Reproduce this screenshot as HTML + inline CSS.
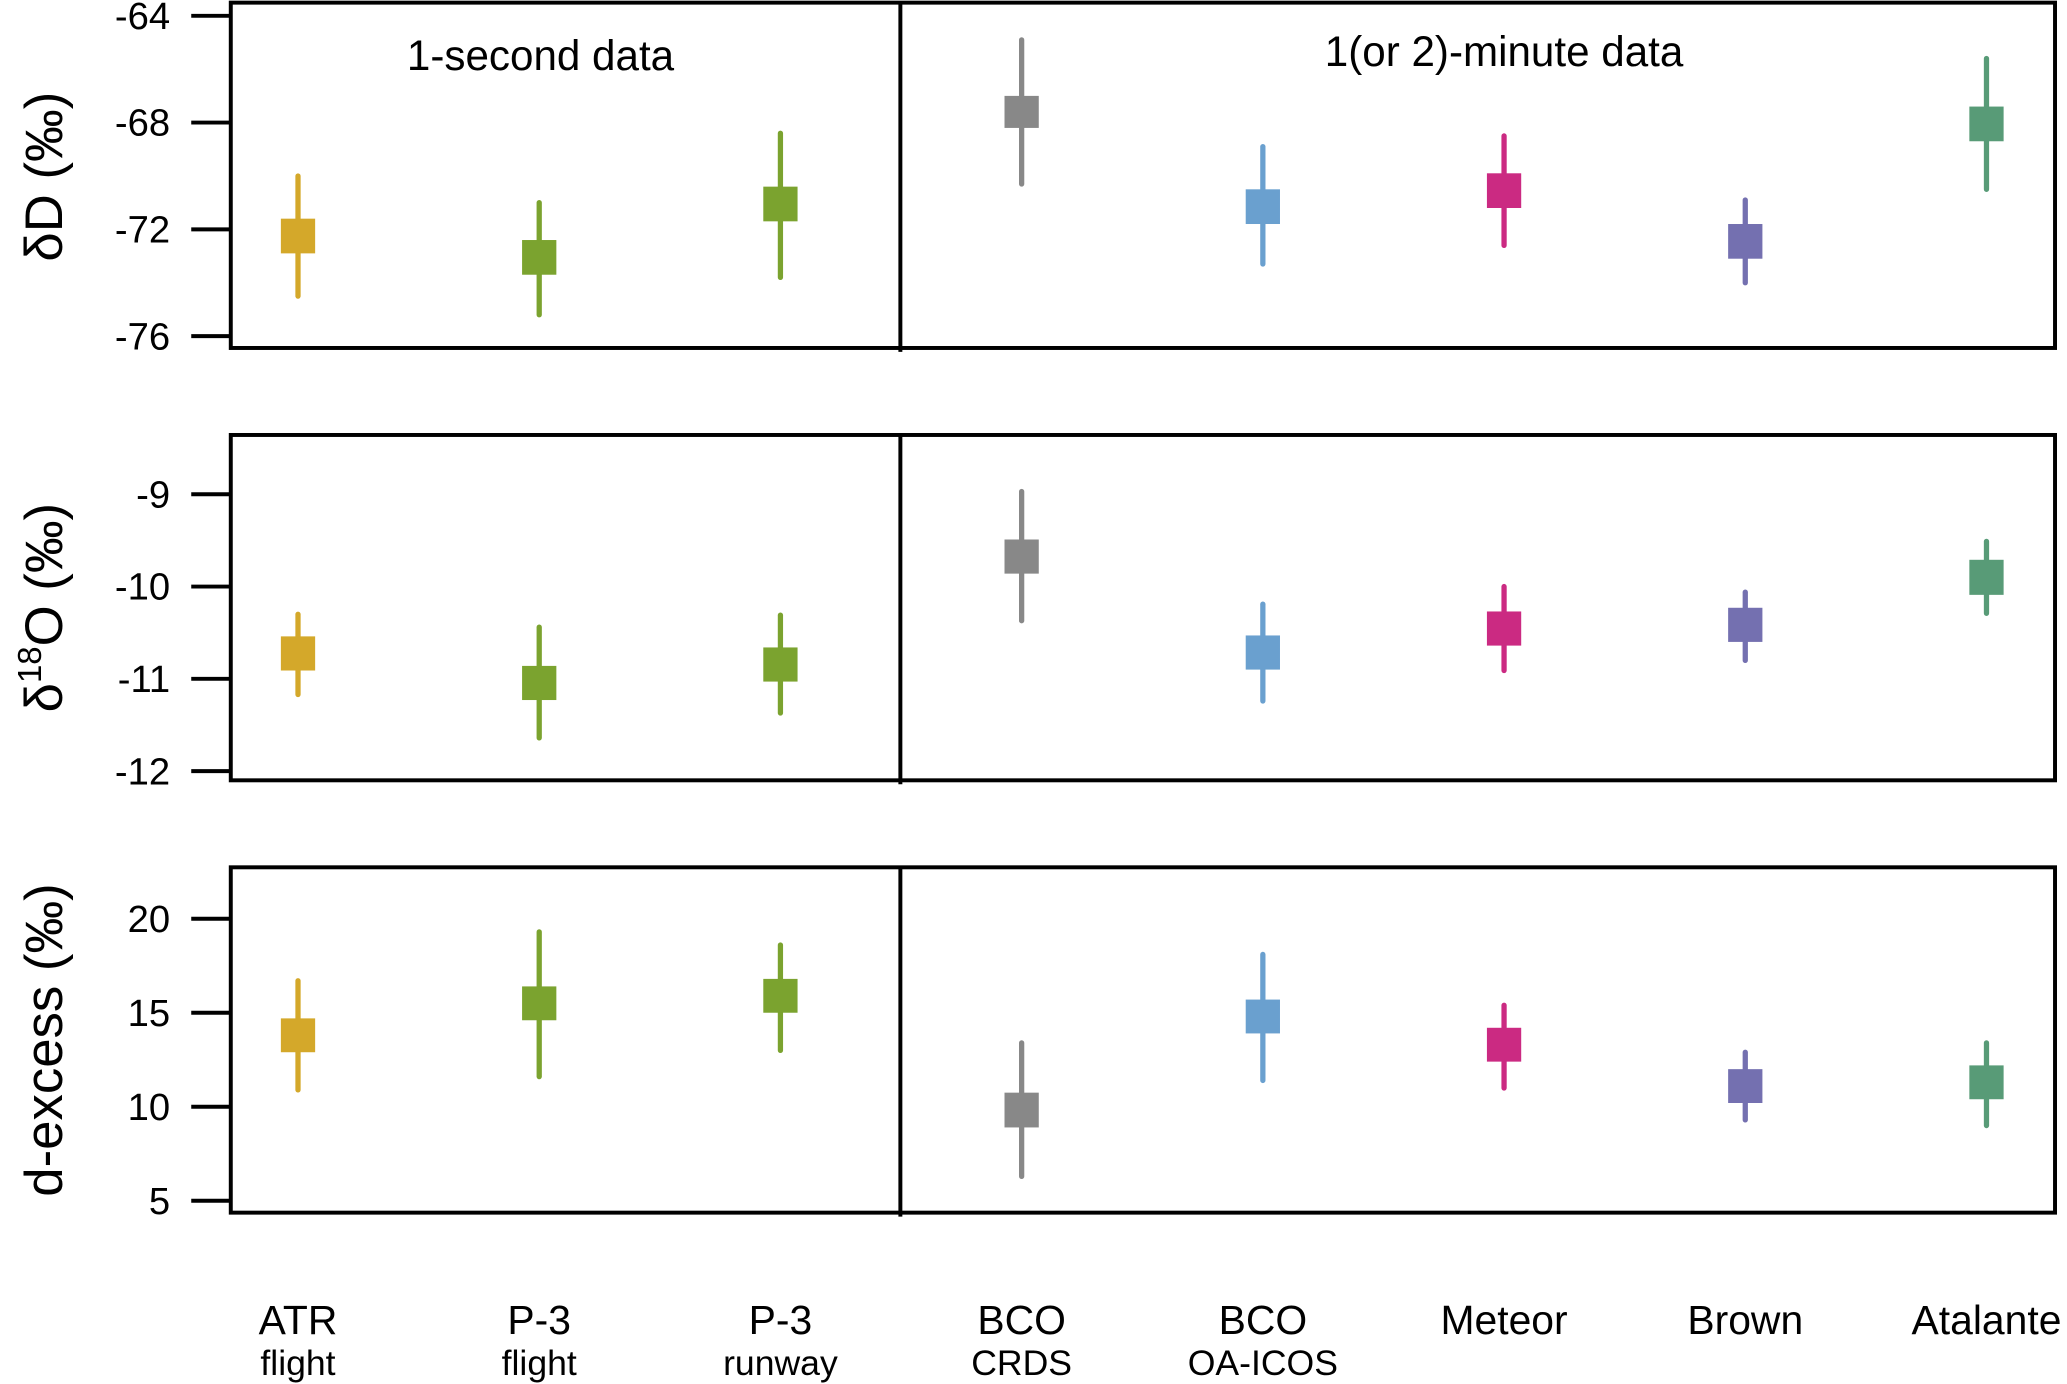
<!DOCTYPE html>
<html><head><meta charset="utf-8">
<style>
html,body{margin:0;padding:0;background:#fff;}
svg{display:block;font-family:"Liberation Sans",Arial,sans-serif;}
</style></head>
<body>
<svg id="chart" width="2067" height="1384" viewBox="0 0 1568 1050" xmlns="http://www.w3.org/2000/svg"></svg>
<script>
const categories = ["ATR","P-3","P-3","BCO","BCO","Meteor","Brown","Atalante"];
const subLabels = ["flight","flight","runway","CRDS","OA-ICOS","","",""];
const colors = ["#d4a82a","#7ba32f","#7ba32f","#888888","#6aa0cf","#cb2a82","#7470b0","#589b77"];
// dD panel
const dDWhiskerHi = [-70.0,-71.0,-68.4,-64.9,-68.9,-68.5,-70.9,-65.6];
const dDWhiskerLo = [-74.5,-75.2,-73.8,-70.3,-73.3,-72.6,-74.0,-70.5];
const dDBoxHi = [-71.6,-72.4,-70.4,-67.0,-70.5,-69.9,-71.8,-67.4];
const dDBoxLo = [-72.9,-73.7,-71.7,-68.2,-71.8,-71.2,-73.1,-68.7];
const dDTicks = [-64,-68,-72,-76];
// d18O panel
const oWhiskerHi = [-10.3,-10.44,-10.31,-8.97,-10.19,-10.0,-10.06,-9.51];
const oWhiskerLo = [-11.17,-11.64,-11.37,-10.37,-11.24,-10.91,-10.8,-10.29];
const oBoxHi = [-10.54,-10.86,-10.66,-9.49,-10.53,-10.27,-10.23,-9.71];
const oBoxLo = [-10.91,-11.23,-11.03,-9.86,-10.9,-10.64,-10.6,-10.09];
const oTicks = [-9,-10,-11,-12];
// d-excess panel
const dxWhiskerHi = [16.7,19.3,18.6,13.4,18.1,15.4,12.9,13.4];
const dxWhiskerLo = [10.9,11.6,13.0,6.3,11.4,11.0,9.3,9.0];
const dxBoxHi = [14.7,16.4,16.8,10.75,15.7,14.2,12.0,12.2];
const dxBoxLo = [12.9,14.6,15.0,8.9,13.9,12.4,10.2,10.4];
const dxTicks = [20,15,10,5];

const NS="http://www.w3.org/2000/svg";
const svg=document.getElementById('chart');
function mk(tag,attrs,parent){const e=document.createElementNS(NS,tag);for(const k in attrs)e.setAttribute(k,attrs[k]);(parent||svg).appendChild(e);return e;}
const X0=175,X1=1559,DIV=683;
const xPos=i=>226+i*183;

const panels=[
 {name:'delta-d',top:2,bot:264,v0:-64,y0:12,v1:-76,y1:255,ticks:dDTicks,wh:dDWhiskerHi,wl:dDWhiskerLo,bh:dDBoxHi,bl:dDBoxLo},
 {name:'delta-18o',top:330,bot:592,v0:-9,y0:375,v1:-12,y1:585,ticks:oTicks,wh:oWhiskerHi,wl:oWhiskerLo,bh:oBoxHi,bl:oBoxLo},
 {name:'d-excess',top:658,bot:920,v0:20,y0:697,v1:5,y1:911,ticks:dxTicks,wh:dxWhiskerHi,wl:dxWhiskerLo,bh:dxBoxHi,bl:dxBoxLo}
];
panels.forEach(p=>{
  const g=mk('g',{});
  
  
  const y=v=>p.y0+(v-p.v0)*(p.y1-p.y0)/(p.v1-p.v0);
  const frame=mk('rect',{x:X0,y:p.top,width:X1-X0,height:p.bot-p.top,fill:'none',stroke:'#000','stroke-width':3},g);
  
  
  const dv=mk('line',{x1:DIV,x2:DIV,y1:p.top,y2:p.bot+3,stroke:'#000','stroke-width':3},g);
  
  
  p.ticks.forEach(t=>{
    const ty=y(t);
    const tl=mk('line',{x1:145,x2:175,y1:ty,y2:ty,stroke:'#000','stroke-width':3},g);
    
    
    const tx=mk('text',{x:129,y:ty+10,'font-size':29,'text-anchor':'end'},g);
    tx.textContent=t;
    
    
  });
  categories.forEach((c,i)=>{
    const x=xPos(i);
    const w=mk('line',{x1:x,x2:x,y1:y(p.wh[i]),y2:y(p.wl[i]),stroke:colors[i],'stroke-width':4,'stroke-linecap':'round'},g);
    
    
    const b=mk('rect',{x:x-13,y:y(p.bh[i]),width:26,height:y(p.bl[i])-y(p.bh[i]),fill:colors[i]},g);
    
    
  });
});
function txt(s,attrs,name){const t=mk('text',attrs);t.textContent=s;return t;}
txt('1-second data',{x:410,y:53,'font-size':32,'text-anchor':'middle'},'one-second-label');
txt('1(or 2)-minute data',{x:1141,y:50,'font-size':32,'text-anchor':'middle'},'minute-data-label');
// y titles
txt('δD (‰)',{x:0,y:0,'font-size':40,'text-anchor':'middle',transform:'translate(47,134) rotate(-90)'},'y-axis-title-dd');
const t2=mk('text',{x:0,y:0,'font-size':40,'text-anchor':'middle',transform:'translate(47,461) rotate(-90)'});


t2.innerHTML='δ<tspan font-size="25" dy="-16">18</tspan><tspan dy="16">O (‰)</tspan>';
txt('d-excess (‰)',{x:0,y:0,'font-size':40,'text-anchor':'middle',transform:'translate(47,789) rotate(-90)'},'y-axis-title-dexcess');
categories.forEach((c,i)=>{
  txt(c,{x:xPos(i),y:1012,'font-size':31,'text-anchor':'middle'},'x-label-'+c.toLowerCase());
  if(subLabels[i]) txt(subLabels[i],{x:xPos(i),y:1043,'font-size':27,'text-anchor':'middle'},'x-sublabel-'+subLabels[i].toLowerCase());
});
</script>
</body></html>
